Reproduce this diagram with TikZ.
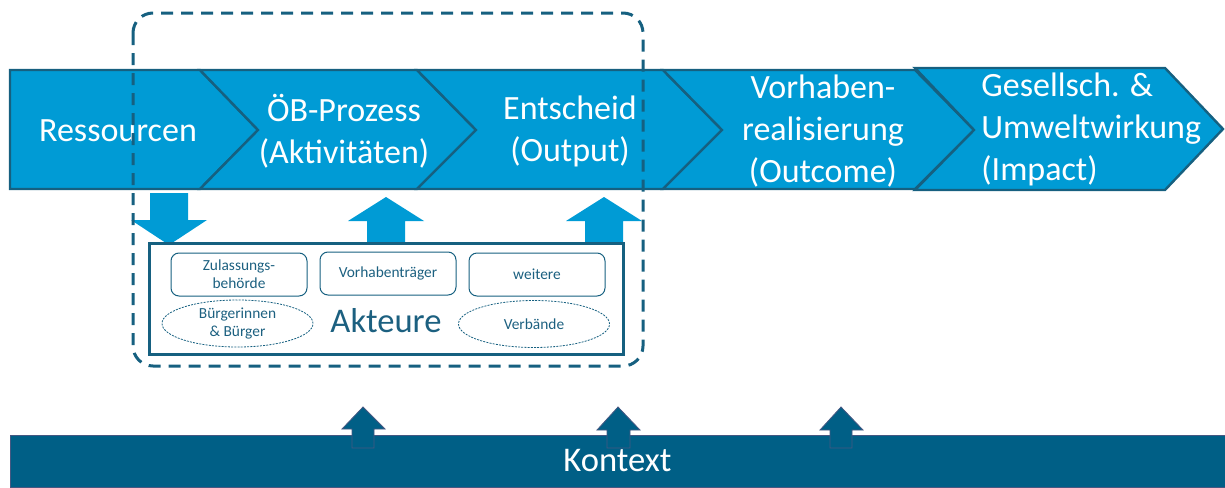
\documentclass[tikz,border=0pt]{standalone}
\usepackage{fontspec}
\setmainfont{Carlito}
\usetikzlibrary{shapes.geometric}

\definecolor{hellblau}{RGB}{0,155,213}
\definecolor{randblau}{RGB}{22,96,128}
\definecolor{dunkelblau}{RGB}{0,95,134}
\definecolor{kontextrand}{RGB}{70,88,130}
\definecolor{schrift}{RGB}{28,96,128}

\tikzset{
  stufe/.style={fill=hellblau, draw=randblau, line width=1.2pt, line join=miter},
  stufentext/.style={text=white, font=\fontsize{17}{21}\selectfont, align=center, inner sep=0pt},
  akteur/.style={draw=randblau, line width=0.5pt, rounded corners=4pt, minimum width=68pt, minimum height=21.5pt,
    text=schrift, font=\fontsize{7.7}{9}\selectfont, align=center, inner sep=0pt},
  gruppe/.style={ellipse, draw=randblau, line width=0.4pt, dash pattern=on 1pt off 0.6pt,
    minimum width=75.5pt, minimum height=23.5pt, inner sep=0pt},
  gruppentext/.style={text=schrift, font=\fontsize{7.7}{9}\selectfont, align=center, inner sep=0pt},
  rahmen/.style={draw=randblau, line width=1.5pt, dash pattern=on 6pt off 4pt, rounded corners=10pt},
  pfeilhell/.style={fill=hellblau},
  pfeildunkel/.style={fill=dunkelblau, draw=kontextrand, line width=0.4pt},
}

\begin{document}
\begin{tikzpicture}[x=0.5pt,y=-0.5pt]
\useasboundingbox (0,0) rectangle (1225,487);

% Kette der Stufen
\draw[stufe] (10,70) -- (200,70) -- (258,130) -- (200,189) -- (10,189) -- cycle;
\draw[stufe] (200,70) -- (417,70) -- (476,130) -- (417,189) -- (200,189) -- (258,130) -- cycle;
\draw[stufe] (417,70) -- (663,70) -- (722,130) -- (663,189) -- (417,189) -- (476,130) -- cycle;
\draw[stufe] (663,70) -- (915,70) -- (974,130) -- (915,189) -- (663,189) -- (722,130) -- cycle;
\draw[stufe] (915,68) -- (1165,68) -- (1223,129) -- (1165,190) -- (915,190) -- (974,130) -- cycle;

\path (118,131) node[stufentext](Ressourcen){Ressourcen}
      (344,131) node[stufentext](Prozess){ÖB-Prozess\\(Aktivitäten)}
      (570,131) node[stufentext](Entscheid){Entscheid\\(Output)}
      (823,131) node[stufentext](Realisierung){Vorhaben-\\realisierung\\(Outcome)}
      (981,129) node[stufentext, anchor=west, align=left](Wirkung){Gesellsch. \&\\Umweltwirkung\\(Impact)};

% Kontext
\node[fill=dunkelblau, draw=kontextrand, line width=0.4pt, minimum width=607.5pt, minimum height=26pt, inner sep=0pt,
  text=white, font=\fontsize{17.3}{20}\selectfont] (Kontext) at (617.5,461) {Kontext};
\filldraw[pfeildunkel] (352,448) -- (352,429) -- (342,429) -- (363,407) -- (385,429) -- (374,429) -- (374,448) -- cycle;
\filldraw[pfeildunkel] (607,448) -- (607,430) -- (597,430) -- (618,407) -- (640,430) -- (630,430) -- (630,448) -- cycle;
\filldraw[pfeildunkel] (830,448) -- (830,430) -- (820,430) -- (841,407) -- (863,430) -- (852,430) -- (852,448) -- cycle;

% Akteure
\fill[pfeilhell] (150,193) -- (188,193) -- (188,220) -- (207,220) -- (169,245) -- (131,220) -- (150,220) -- cycle;
\fill[pfeilhell] (367,244) -- (367,221) -- (348,221) -- (386,197) -- (424,221) -- (405,221) -- (405,244) -- cycle;
\fill[pfeilhell] (585,244) -- (585,221) -- (566,221) -- (604,197) -- (642,221) -- (623,221) -- (623,244) -- cycle;

\node[draw=randblau, line width=1.5pt, minimum width=237pt, minimum height=55.5pt, inner sep=0pt] (Akteure) at (386.5,299) {};
\node[text=schrift, font=\fontsize{17.3}{20}\selectfont, inner sep=0pt] (AkteureText) at (386,321) {Akteure};

\node[akteur] (Behoerde) at (239,274.5) {Zulassungs-\\behörde};
\node[akteur] (Traeger) at (388,273.5) {Vorhabenträger};
\node[akteur] (Weitere) at (537,274.5) {weitere};
\node[gruppe] (Buerger) at (237.5,323.5) {};
\node[gruppentext] (BuergerText) at (Buerger) {Bürgerinnen\\\& Bürger};
\node[gruppe] (Verbaende) at (534,324) {};
\node[gruppentext] (VerbaendeText) at (Verbaende) {Verbände};

% Rahmen um den Verfahrensteil
\draw[rahmen] (133,13) rectangle (643,366);
\end{tikzpicture}
\end{document}
